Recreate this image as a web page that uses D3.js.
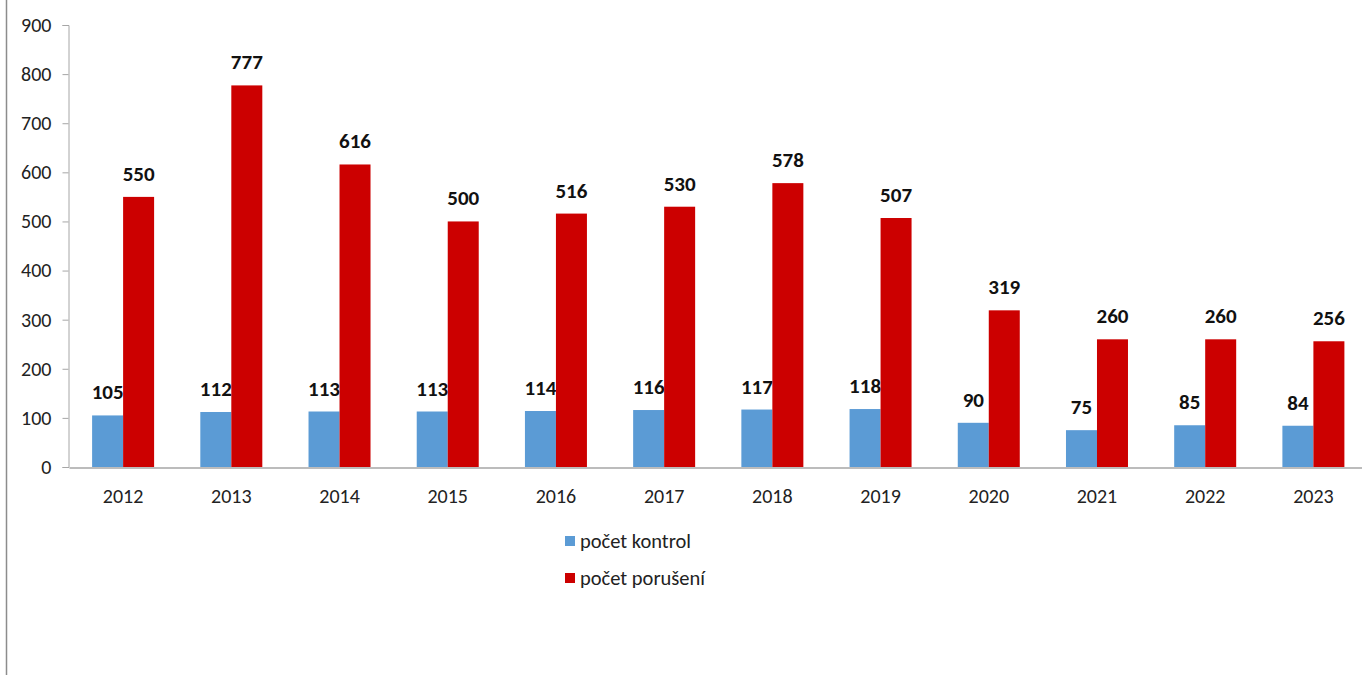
<!DOCTYPE html>
<html>
<head>
<meta charset="utf-8">
<script src="https://cdn.jsdelivr.net/npm/d3@7"></script>
<style>
  body { margin: 0; background: #fff; }
  svg text { font-family: Carlito, "Liberation Sans Narrow", Lato, sans-serif; }
</style>
</head>
<body>
<svg id="chart" width="1362" height="675"></svg>
<script>
var years = ["2012", "2013", "2014", "2015", "2016", "2017", "2018", "2019", "2020", "2021", "2022", "2023"];
var kontrol = [105, 112, 113, 113, 114, 116, 117, 118, 90, 75, 85, 84];
var poruseni = [550, 777, 616, 500, 516, 530, 578, 507, 319, 260, 260, 256];
var seriesNames = ["počet kontrol", "počet porušení"];
var seriesColors = ["#5b9bd5", "#cc0000"];
var yTicks = [0, 100, 200, 300, 400, 500, 600, 700, 800, 900];

var svg = d3.select("#chart");

// frame line on the left
svg.append("line")
    .attr("x1", 6.5).attr("x2", 6.5)
    .attr("y1", 0).attr("y2", 675)
    .attr("stroke", "#8c8c8c")
    .attr("stroke-width", 1.5);

var x0 = d3.scaleBand().domain(years).range([69, 1367.5]).paddingInner(0).paddingOuter(0);
var y = d3.scaleLinear().domain([0, 900]).range([467, 25]);
var barW = 31;

// y axis
var yAxis = svg.append("g")
    .attr("transform", "translate(68.5,0)")
    .call(d3.axisLeft(y).tickValues(yTicks).tickSize(6).tickPadding(11).tickFormat(d3.format("d")));
yAxis.select(".domain").attr("stroke", "#a6a6a6");
yAxis.selectAll(".tick line").attr("stroke", "#a6a6a6");
yAxis.selectAll(".tick text").attr("font-size", 20).attr("fill", "#222");

// x axis
var xAxis = svg.append("g")
    .attr("transform", "translate(0,467.5)")
    .call(d3.axisBottom(x0).tickSize(0).tickPadding(21));
xAxis.select(".domain").attr("stroke", "#a6a6a6").attr("stroke-width", 1.5);
xAxis.selectAll(".tick text").attr("font-size", 20).attr("fill", "#222");

var groups = svg.append("g")
    .selectAll("g")
    .data(years)
    .enter()
    .append("g")
    .attr("transform", function (d) {
        return "translate(" + (x0(d) + x0.bandwidth() / 2) + ",0)";
    });

groups.each(function (d, i) {
    var g = d3.select(this);
    var vals = [kontrol[i], poruseni[i]];
    vals.forEach(function (v, k) {
        var bx = k === 0 ? -barW : 0;
        g.append("rect")
            .attr("x", bx)
            .attr("y", y(v))
            .attr("width", barW)
            .attr("height", y(0) - y(v))
            .attr("fill", seriesColors[k]);
        g.append("text")
            .attr("x", bx + barW / 2)
            .attr("y", y(v) - 16)
            .attr("text-anchor", "middle")
            .attr("font-size", 21)
            .attr("font-weight", "bold")
            .attr("fill", "#111")
            .text(v);
    });
});

// legend
var legend = svg.append("g")
    .selectAll("g")
    .data(seriesNames)
    .enter()
    .append("g")
    .attr("transform", function (d, i) {
        return "translate(565," + (536 + i * 37) + ")";
    });
legend.append("rect")
    .attr("width", 10).attr("height", 10)
    .attr("fill", function (d, i) { return seriesColors[i]; });
legend.append("text")
    .attr("x", 15).attr("y", 12)
    .attr("font-size", 20.5)
    .attr("fill", "#222")
    .text(function (d) { return d; });
</script>
</body>
</html>
